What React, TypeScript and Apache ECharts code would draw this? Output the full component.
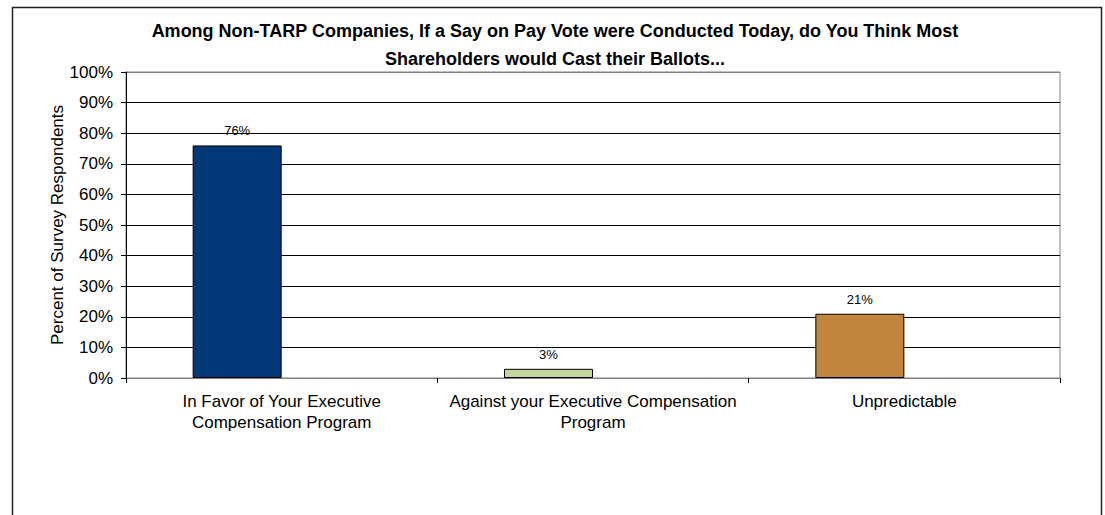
import React, { useEffect, useRef } from "react";
import * as echarts from "echarts";

const categories = [
  "In Favor of Your Executive\nCompensation Program",
  "Against your Executive Compensation\nProgram",
  "Unpredictable",
];
const values = [76, 3, 21];
const barColors = ["#033778", "#c3d69b", "#c2853e"];
const yTicks = [0, 10, 20, 30, 40, 50, 60, 70, 80, 90, 100];
const titleText =
  "Among Non-TARP Companies, If a Say on Pay Vote were Conducted Today, do You Think Most\nShareholders would Cast their Ballots...";
const yAxisTitle = "Percent of Survey Respondents";

const FONT = "'Liberation Sans', Arial, sans-serif";

export default function App() {
  const ref = useRef<HTMLDivElement>(null);
  useEffect(() => {
    if (!ref.current) return;
    const chart = echarts.init(ref.current, null, { renderer: "svg" });
    const splitColors = yTicks.map((t, i) => (i === yTicks.length - 1 ? "#808080" : "#000000"));
    chart.setOption({
      animation: false,
      backgroundColor: "#ffffff",
      textStyle: { fontFamily: FONT },
      title: {
        text: titleText,
        left: 550,
        top: 12,
        textAlign: "center",
        textStyle: { fontFamily: FONT, fontSize: 18, fontWeight: "bold", color: "#000", lineHeight: 28 },
      },
      graphic: [
        {
          type: "rect",
          shape: { x: 12.5, y: 7.5, width: 1089, height: 540 },
          style: { fill: "none", stroke: "#222", lineWidth: 1.5 },
          silent: true,
          z: 100,
        },
      ],
      grid: {
        left: 126,
        top: 72,
        width: 934,
        height: 306,
        show: true,
        borderColor: "#808080",
        borderWidth: 1,
        backgroundColor: "transparent",
      },
      xAxis: {
        type: "category",
        data: categories,
        axisLine: { show: true, lineStyle: { color: "#808080", width: 1 } },
        axisTick: { show: true, length: 5, lineStyle: { color: "#000" }, alignWithLabel: false },
        axisLabel: {
          color: "#000",
          fontSize: 17,
          fontFamily: FONT,
          lineHeight: 21,
          margin: 13,
          interval: 0,
        },
        splitLine: { show: false },
      },
      yAxis: {
        type: "value",
        min: 0,
        max: 100,
        interval: 10,
        name: yAxisTitle,
        nameLocation: "middle",
        nameGap: 60,
        nameMoveOverlap: false,
        nameTextStyle: { color: "#000", fontSize: 17, fontFamily: FONT },
        axisLine: { show: true, lineStyle: { color: "#000", width: 1 } },
        axisTick: { show: true, length: 5, lineStyle: { color: "#000" } },
        axisLabel: {
          color: "#000",
          fontSize: 17,
          fontFamily: FONT,
          margin: 13,
          formatter: (v: number) => v + "%",
        },
        splitLine: { show: true, lineStyle: { color: splitColors, width: 1 } },
      },
      series: [
        {
          type: "bar",
          barWidth: 89,
          barGap: "0%",
          data: values.map((v, i) => ({
            value: v,
            itemStyle: { color: barColors[i], borderColor: "#000", borderWidth: 1 },
          })),
          label: {
            show: true,
            position: "top",
            distance: 8,
            color: "#000",
            fontSize: 13,
            fontFamily: FONT,
            formatter: (p: any) => p.value + "%",
          },
        },
        {
          type: "bar",
          barWidth: 89,
          barGap: "0%",
          data: values.map(() => null),
        },
      ],
    });
    return () => chart.dispose();
  }, []);
  return (
    <div
      ref={ref}
      style={{ position: "absolute", left: 0, top: 0, width: 1105, height: 515 }}
    />
  );
}
